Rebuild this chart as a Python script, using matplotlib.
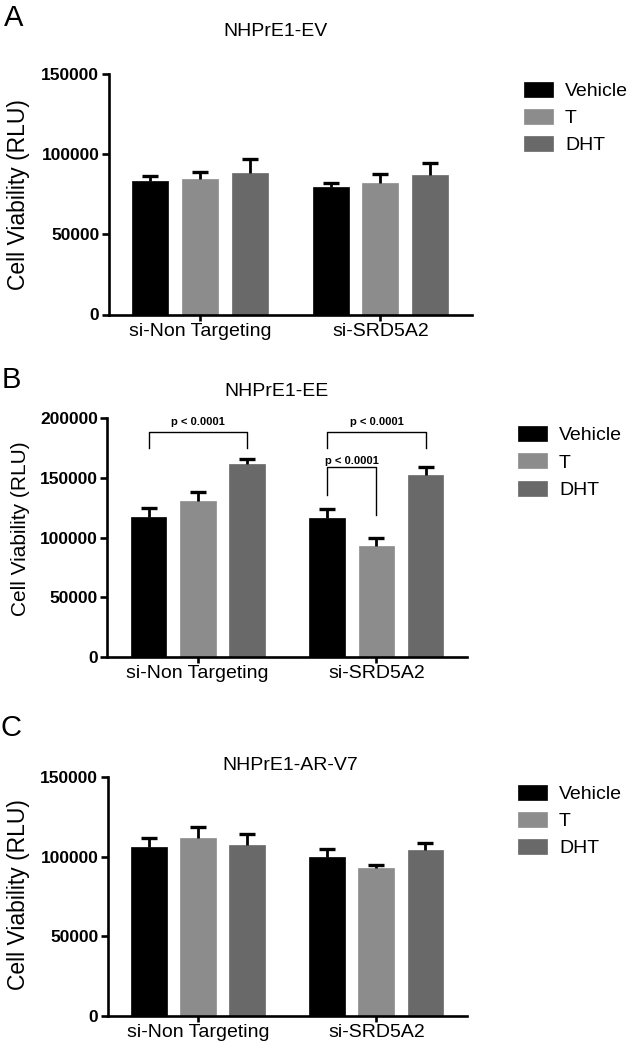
import matplotlib
matplotlib.use('Agg')
import matplotlib.pyplot as plt
from matplotlib.ticker import FuncFormatter, MultipleLocator
import numpy as np

plt.rcParams['font.family'] = ['Liberation Sans', 'DejaVu Sans']

# ---------------- data ----------------
groups = ['si-Non Targeting', 'si-SRD5A2']
treatments = ['Vehicle', 'T', 'DHT']
bar_colors = ['#000000', '#8c8c8c', '#696969']

# rows: Vehicle, T, DHT ; columns: si-Non Targeting, si-SRD5A2
ev_means = [[83500, 79700], [84700, 82200], [88400, 86800]]
ev_errs = [[2900, 2500], [4400, 5200], [8300, 7900]]

ee_means = [[117500, 116100], [130600, 92900], [161400, 152800]]
ee_errs = [[7000, 8100], [7300, 7000], [4200, 6200]]

arv7_means = [[106200, 99700], [111700, 92800], [107300, 104500]]
arv7_errs = [[5900, 5200], [6900, 1900], [6900, 4000]]

panel_titles = ['NHPrE1-EV', 'NHPrE1-EE', 'NHPrE1-AR-V7']
panel_letters = ['A', 'B', 'C']
y_max = [150000, 200000, 150000]

# significance brackets for panel B:
# (group, treatment_a, treatment_b, bracket top, left leg end, right leg end, label y)
ee_brackets = [
    (0, 0, 2, 188300, 174800, 174800, 196600),
    (1, 0, 2, 188300, 174800, 174800, 196600),
    (1, 0, 1, 158900, 135700, 118900, 164200),
]
bracket_label = 'p < 0.0001'

# ---------------- layout (pixels) ----------------
W, H = 631, 1050
fig = plt.figure(figsize=(W / 100, H / 100), dpi=100)

# left, right, top(value max), bottom(zero)
axes_px = [(109, 471.7, 74, 314.5),
           (107.5, 467, 418.3, 656.7),
           (108, 466.7, 777.4, 1015.5)]
title_px = [(275.5, 31.5), (276.5, 391.5), (290.5, 765)]
letter_px = [(4, 26), (2, 388), (0.5, 735.5)]
legend_px = [(524, 81.5), (518, 426), (518, 784.5)]
ylabel_y = [0.5, 0.538, 0.51]
ylabel_fs = [16.5, 15, 16.5]

bar_w = 0.2
pitch = 0.275
x_groups = np.arange(len(groups))

all_means = [ev_means, ee_means, arv7_means]
all_errs = [ev_errs, ee_errs, arv7_errs]

for p in range(3):
    L, R, T, B = axes_px[p]
    ax = fig.add_axes([L / W, 1 - B / H, (R - L) / W, (B - T) / H])
    handles = []
    for k, tr in enumerate(treatments):
        xs = x_groups + (k - 1) * pitch
        m = np.array(all_means[p][k])
        e = np.array(all_errs[p][k])
        bc = ax.bar(xs, m, width=bar_w, color=bar_colors[k], edgecolor=bar_colors[k],
                    linewidth=0.5, label=tr, zorder=2)
        handles.append(bc)
        eb = ax.errorbar(xs, m, yerr=[np.zeros_like(e), e], fmt='none', ecolor='black',
                         elinewidth=2.0, capsize=6.1, capthick=2.4, zorder=3)
        eb.lines[1][0].set_visible(False)

    ax.set_xlim(-0.505, 1.507)
    ax.set_ylim(0, y_max[p])
    ax.yaxis.set_major_locator(MultipleLocator(50000))
    ax.yaxis.set_major_formatter(FuncFormatter(lambda v, pos: f'{int(v)}'))
    ax.set_xticks(x_groups)
    ax.set_xticklabels(groups, fontsize=14)
    for s in ['top', 'right']:
        ax.spines[s].set_visible(False)
    for s in ['left', 'bottom']:
        ax.spines[s].set_linewidth(1.9)
    ax.tick_params(axis='y', direction='out', length=5, width=1.9, labelsize=12.5, pad=2)
    ax.tick_params(axis='x', direction='out', length=4.3, width=1.9, pad=1.5)
    for lab in ax.get_yticklabels():
        lab.set_fontweight('bold')

    ax.set_ylabel('Cell Viability (RLU)', fontsize=ylabel_fs[p])
    ax.yaxis.set_label_coords((30 - L) / (R - L), ylabel_y[p])

    fig.text(title_px[p][0] / W, 1 - title_px[p][1] / H, panel_titles[p],
             ha='center', va='center', fontsize=14)
    fig.text(letter_px[p][0] / W, 1 - letter_px[p][1] / H, panel_letters[p],
             ha='left', va='baseline', fontsize=21)

    ax.legend(handles, treatments, loc='upper left',
              bbox_to_anchor=(legend_px[p][0] / W, 1 - legend_px[p][1] / H),
              bbox_transform=fig.transFigure, frameon=False, fontsize=14,
              handlelength=1.49, handleheight=0.82, handletextpad=0.62,
              labelspacing=0.46, borderpad=0, borderaxespad=0)

    if p == 1:
        for g, a, b, ytop, yl, yr, ylab in ee_brackets:
            xa = g + (a - 1) * pitch
            xb = g + (b - 1) * pitch
            ax.plot([xa, xa, xb, xb], [yl, ytop, ytop, yr], color='black',
                    lw=1.0, clip_on=False, zorder=4)
            ax.text((xa + xb) / 2, ylab, bracket_label, ha='center', va='center',
                    fontsize=8, fontweight='bold', clip_on=False)

fig.savefig('out.png', dpi=100)
